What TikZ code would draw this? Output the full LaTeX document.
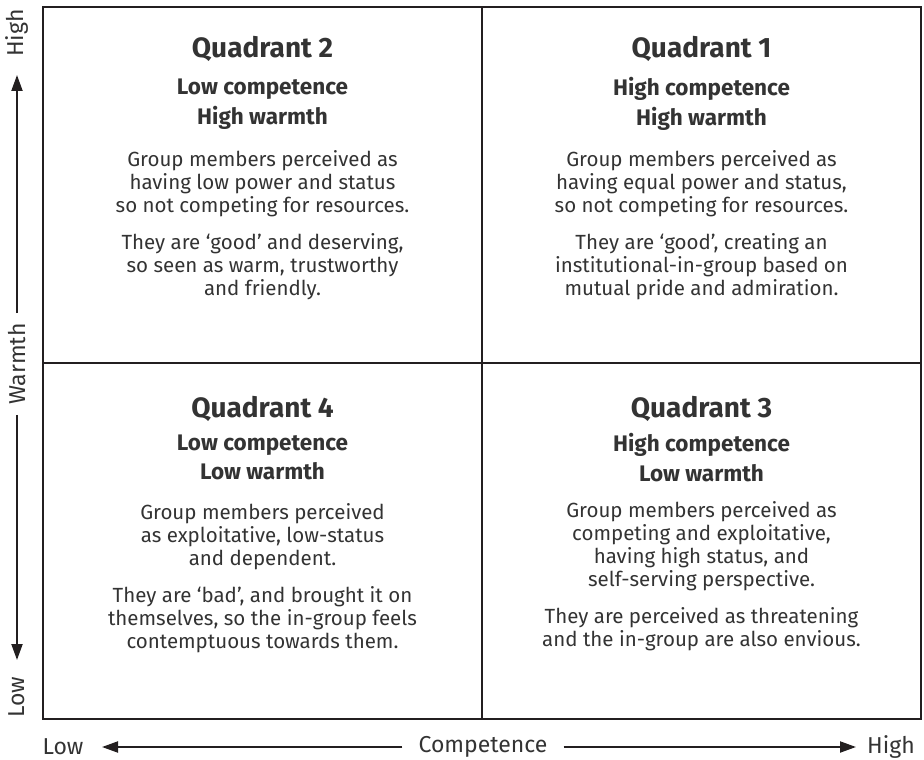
\documentclass[tikz,border=0pt]{standalone}
\usepackage{fontspec}
\setmainfont{Fira Sans}
\usetikzlibrary{arrows.meta}
\usetikzlibrary{math}
\definecolor{ink}{HTML}{231F20}
\definecolor{txt}{HTML}{333333}

\begin{document}
\begin{tikzpicture}[x=1pt,y=-1pt,
    title/.style={font=\fontsize{28}{32}\selectfont\bfseries,text=txt},
    sub/.style={align=center,font=\fontsize{22.5}{29.5}\selectfont\bfseries,text=txt},
    body/.style={align=center,font=\fontsize{20.5}{23}\selectfont,text=txt},
    axis/.style={font=\fontsize{23}{24}\selectfont,text=txt,inner xsep=16pt},
    arr/.style={-{Triangle[length=16pt,width=11pt]},line width=2pt,draw=ink}]
    \tikzmath{  \xl = 43 ; 
                \xm = 482 ;
                \xr = 921 ;
                \yt = 7 ;
                \ym = 363 ;
                \yb = 719 ;
                \xa = (\xl + \xm)/2 ;
                \xb = (\xm + \xr)/2 ;
                \xv = 17 ;
                \yh = 747 ;
                }
    \useasboundingbox (0,0) rectangle (924,760);

    % quadrants
    \draw[line width=1.5pt,draw=ink] (\xm,\yt) -- (\xm,\yb);
    \draw[line width=1.5pt,draw=ink] (\xl,\ym) -- (\xr,\ym);
    \draw[line width=2pt,draw=ink] (\xl,\yt) rectangle (\xr,\yb);

    \node[title] (q2) at (\xa,49) {Quadrant 2};
    \node[sub] (q2s) at (\xa,104) {Low competence\\High warmth};
    \node[body] (q2b) at (\xa,225) {Group members perceived as\\having low power and status\\so not competing for resources.\\[14pt]They are ‘good’ and deserving,\\so seen as warm, trustworthy\\and friendly.};

    \node[title] (q1) at (\xb,49) {Quadrant 1};
    \node[sub] (q1s) at (\xb,104) {High competence\\High warmth};
    \node[body] (q1b) at (\xb,225) {Group members perceived as\\having equal power and status,\\so not competing for resources.\\[14pt]They are ‘good’, creating an\\institutional-in-group based on\\mutual pride and admiration.};

    \node[title] (q4) at (\xa,409) {Quadrant 4};
    \node[sub] (q4s) at (\xa,457.5) {Low competence\\Low warmth};
    \node[body] (q4b) at (\xa,578) {Group members perceived\\as exploitative, low-status\\and dependent.\\[14pt]They are ‘bad’, and brought it on\\themselves, so the in-group feels\\contemptuous towards them.};

    \node[title] (q3) at (\xb,409) {Quadrant 3};
    \node[sub] (q3s) at (\xb,457.5) {High competence\\Low warmth};
    \node[body] (q3b) at (\xb,576) {Group members perceived as\\competing and exploitative,\\having high status, and\\self-serving perspective.\\[14pt]They are perceived as threatening\\and the in-group are also envious.};

    % warmth axis
    \coordinate (wtop) at (\xv,75);
    \coordinate (wbot) at (\xv,660);
    \node[axis,rotate=90] (wh) at (\xv,33) {High};
    \node[axis,rotate=90,inner xsep=10pt] (wm) at (\xv,364) {Warmth};
    \node[axis,rotate=90] (wl) at (\xv,697) {Low};
    \draw[arr] (wm.east) -- (wtop);
    \draw[arr] (wm.west) -- (wbot);

    % competence axis
    \coordinate (cleft) at (102,\yh);
    \coordinate (cright) at (856,\yh);
    \node[axis] (cl) at (63,\yh) {Low};
    \node[axis] (cm) at (483,\yh) {Competence};
    \node[axis] (ch) at (891,\yh) {High};
    \draw[arr] (cm.west) -- (cleft);
    \draw[arr] (cm.east) -- (cright);
\end{tikzpicture}
\end{document}
